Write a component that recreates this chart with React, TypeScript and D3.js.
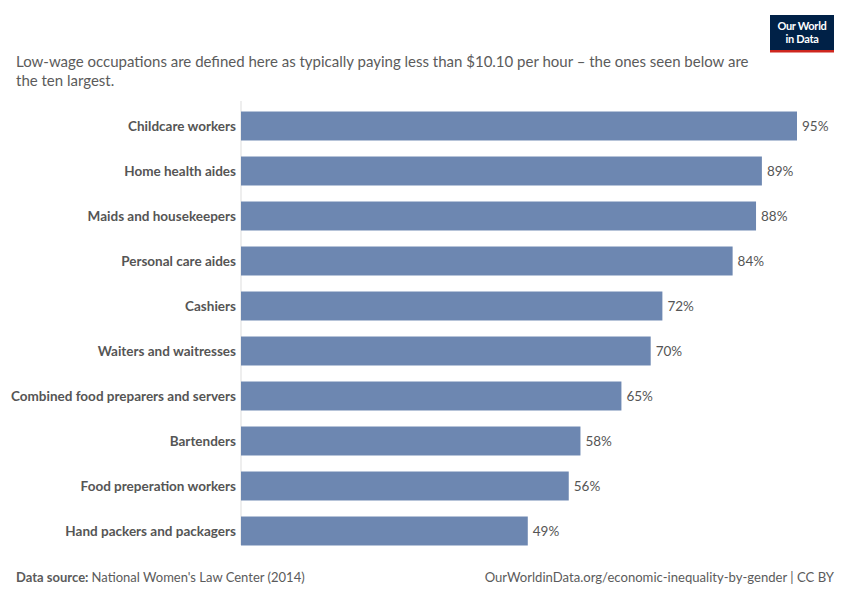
import React, { useEffect, useRef } from "react";
import * as d3 from "d3";

const occupations = [
  "Childcare workers",
  "Home health aides",
  "Maids and housekeepers",
  "Personal care aides",
  "Cashiers",
  "Waiters and waitresses",
  "Combined food preparers and servers",
  "Bartenders",
  "Food preperation workers",
  "Hand packers and packagers",
];
const shareWomen = [95, 89, 88, 84, 72, 70, 65, 58, 56, 49];

const subtitleLines = [
  "Low-wage occupations are defined here as typically paying less than $10.10 per hour – the ones seen below are",
  "the ten largest.",
];

const W = 850;
const H = 600;
const FONT = "Lato, 'Noto Sans', sans-serif";

const App: React.FC = () => {
  const ref = useRef<SVGSVGElement | null>(null);

  useEffect(() => {
    const svg = d3.select(ref.current);
    svg.selectAll("*").remove();
    svg.attr("width", W).attr("height", H).style("font-family", FONT);

    svg.append("rect").attr("width", W).attr("height", H).attr("fill", "#fff");

    // subtitle
    subtitleLines.forEach((line, i) => {
      svg
        .append("text")
        .attr("x", 16)
        .attr("y", 67 + i * 19)
        .attr("fill", "#5b5b5b")
        .style("font-size", "15px")
        .text(line);
    });

    // logo
    const logo = svg.append("g").attr("transform", "translate(770,15)");
    logo.append("rect").attr("width", 64).attr("height", 35).attr("fill", "#002147");
    logo.append("rect").attr("y", 35).attr("width", 64).attr("height", 2.5).attr("fill", "#ce261e");
    ["Our World", "in Data"].forEach((t, i) => {
      logo
        .append("text")
        .attr("x", 32)
        .attr("y", 15 + i * 13)
        .attr("text-anchor", "middle")
        .attr("fill", "#fff")
        .style("font-size", "11px")
        .style("font-weight", 700)
        .style("letter-spacing", "-0.3px")
        .text(t);
    });

    const x = d3.scaleLinear().domain([0, 95]).range([241, 797]);
    const y = d3
      .scaleBand<string>()
      .domain(occupations)
      .range([103.5, 553.5])
      .paddingInner(0.356)
      .paddingOuter(0.178);

    // axis line
    svg
      .append("line")
      .attr("x1", x(0))
      .attr("x2", x(0))
      .attr("y1", 101)
      .attr("y2", 545)
      .attr("stroke", "#dddddd")
      .attr("stroke-width", 1);

    const rows = svg
      .append("g")
      .selectAll("g")
      .data(occupations)
      .join("g");

    rows
      .append("rect")
      .attr("x", x(0))
      .attr("y", (d) => y(d)!)
      .attr("width", (_d, i) => x(shareWomen[i]) - x(0))
      .attr("height", y.bandwidth())
      .attr("fill", "#6d87b1");

    rows
      .append("text")
      .attr("x", x(0) - 5)
      .attr("y", (d) => y(d)! + y.bandwidth() / 2)
      .attr("dy", "0.35em")
      .attr("text-anchor", "end")
      .attr("fill", "#555")
      .style("font-size", "13.5px")
      .style("font-weight", 700)
      .text((d) => d);

    rows
      .append("text")
      .attr("x", (_d, i) => x(shareWomen[i]) + 5)
      .attr("y", (d) => y(d)! + y.bandwidth() / 2)
      .attr("dy", "0.35em")
      .attr("fill", "#555")
      .style("font-size", "13.5px")
      .text((_d, i) => `${shareWomen[i]}%`);

    // footer
    const src = svg
      .append("text")
      .attr("x", 16)
      .attr("y", 582)
      .attr("fill", "#5b5b5b")
      .style("font-size", "13px");
    src.append("tspan").style("font-weight", 700).text("Data source: ");
    src.append("tspan").text("National Women's Law Center (2014)");

    svg
      .append("text")
      .attr("x", 834)
      .attr("y", 582)
      .attr("text-anchor", "end")
      .attr("fill", "#5b5b5b")
      .style("font-size", "13.1px")
      .text("OurWorldinData.org/economic-inequality-by-gender | CC BY");
  }, []);

  return <svg ref={ref} style={{ display: "block", margin: "-8px" }} />;
};

export default App;
